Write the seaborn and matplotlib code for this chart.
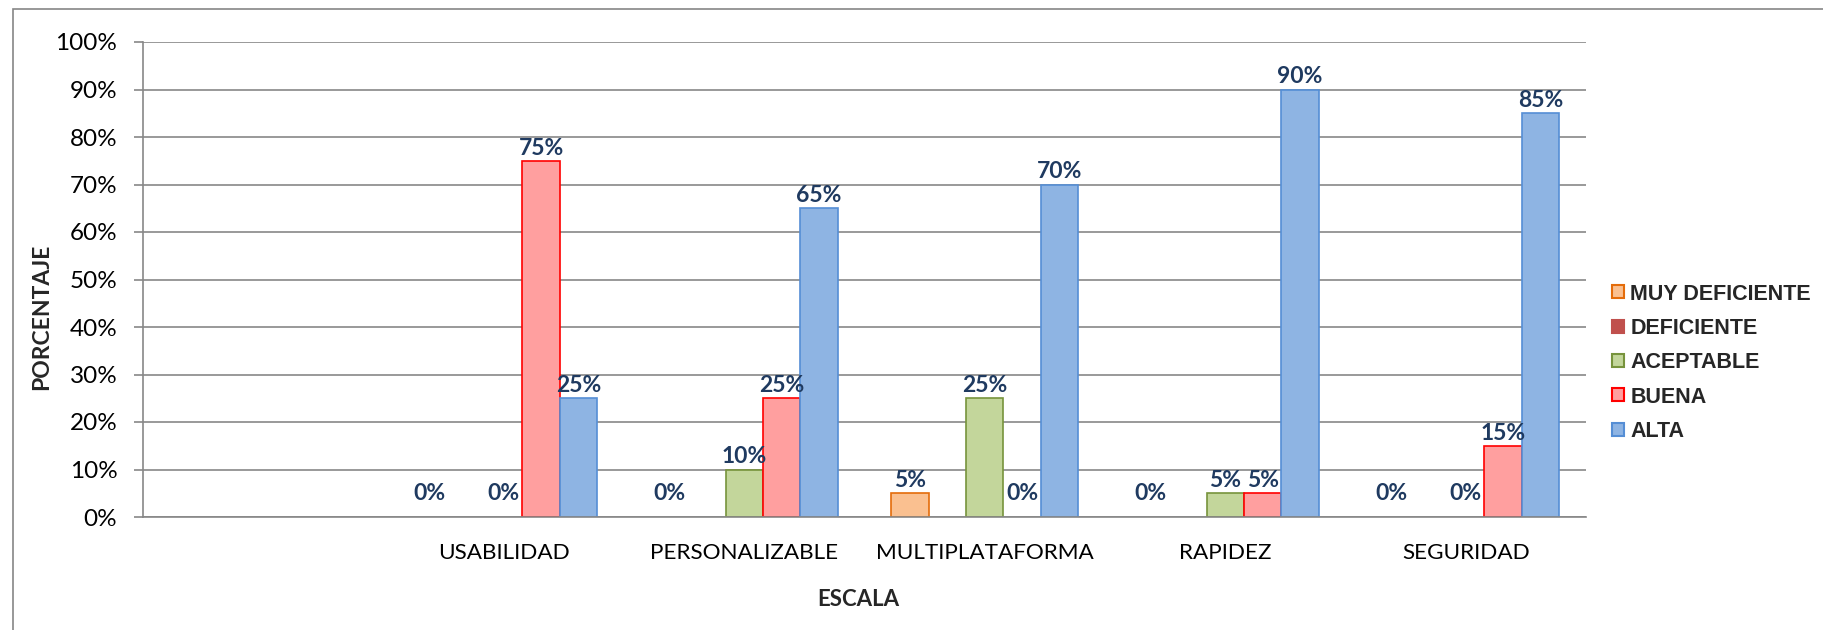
import numpy as np
import pandas as pd
import matplotlib
matplotlib.use("Agg")
import matplotlib.pyplot as plt
from matplotlib.patches import Patch, Rectangle
from matplotlib.ticker import FuncFormatter
from matplotlib import font_manager
import seaborn as sns

# ---------------- data ----------------
categorias = ["", "USABILIDAD", "PERSONALIZABLE", "MULTIPLATAFORMA", "RAPIDEZ", "SEGURIDAD"]
niveles = ["MUY DEFICIENTE", "DEFICIENTE", "ACEPTABLE", "BUENA", "ALTA"]
muy_deficiente = [np.nan, 0.00, 0.00, 0.05, 0.00, 0.00]
deficiente = [np.nan, np.nan, np.nan, np.nan, np.nan, np.nan]
aceptable = [np.nan, 0.00, 0.10, 0.25, 0.05, 0.00]
buena = [np.nan, 0.75, 0.25, 0.00, 0.05, 0.15]
alta = [np.nan, 0.25, 0.65, 0.70, 0.90, 0.85]
yticks = [0.0, 0.1, 0.2, 0.3, 0.4, 0.5, 0.6, 0.7, 0.8, 0.9, 1.0]

series = {"MUY DEFICIENTE": muy_deficiente, "DEFICIENTE": deficiente,
          "ACEPTABLE": aceptable, "BUENA": buena, "ALTA": alta}
rows = []
for nivel in niveles:
    for cat, v in zip(categorias, series[nivel]):
        rows.append({"categoria": cat, "nivel": nivel, "valor": v})
df = pd.DataFrame(rows)

face = {"MUY DEFICIENTE": "#FAC090", "DEFICIENTE": "#C0504D", "ACEPTABLE": "#C3D69B",
        "BUENA": "#FF9F9F", "ALTA": "#8EB4E3"}
edge = {"MUY DEFICIENTE": "#E46C0A", "DEFICIENTE": "#C0504D", "ACEPTABLE": "#77933C",
        "BUENA": "#FF0000", "ALTA": "#558ED5"}

# ---------------- style ----------------
sns.set_style("white")
names = {f.name for f in font_manager.fontManager.ttflist}
main_font = "Lato" if "Lato" in names else "DejaVu Sans"
plt.rcParams["font.family"] = [main_font, "DejaVu Sans"]
leg_font = "Liberation Sans" if "Liberation Sans" in names else "DejaVu Sans"

W, H = 1823, 630
fig = plt.figure(figsize=(W / 100, H / 100), dpi=100)
ax = fig.add_axes([143 / W, 1 - 517 / H, (1586 - 143) / W, (517 - 42) / H])

sns.barplot(data=df, x="categoria", y="valor", hue="nivel", order=categorias,
            hue_order=niveles, palette=face, width=0.776, errorbar=None,
            saturation=1, ax=ax, legend=False)

# edge colours per series + data labels
face_rgb = {k: matplotlib.colors.to_rgb(v) for k, v in face.items()}
for p in ax.patches:
    fc = p.get_facecolor()[:3]
    for k, rgb in face_rgb.items():
        if np.allclose(fc, rgb, atol=0.01):
            p.set_edgecolor(edge[k])
    p.set_linewidth(1.2)
    h = p.get_height()
    if np.isnan(h):
        continue
    if h == 0:
        p.set_linewidth(0)
    cx = p.get_x() + p.get_width() / 2
    off = 9 if h == 0 else 1.5
    ax.annotate(f"{h:.0%}", (cx, h), xytext=(0, off), textcoords="offset points",
                ha="center", va="bottom", fontsize=16.5, fontweight="bold",
                color="#1F3A60")

ax.set_ylim(0, 1)
ax.set_yticks(yticks)
ax.yaxis.set_major_formatter(FuncFormatter(lambda v, _: f"{v:.0%}"))
ax.grid(axis="y", color="#878787", linewidth=1.2)
ax.set_axisbelow(True)
for s in ["top", "right"]:
    ax.spines[s].set_visible(False)
for s in ["left", "bottom"]:
    ax.spines[s].set_color("#878787")
    ax.spines[s].set_linewidth(1.2)
ax.tick_params(axis="y", which="major", left=True, length=6.5, width=1.2,
               color="#878787", pad=12, labelsize=17.5, labelcolor="black")
ax.tick_params(axis="x", bottom=False, length=0, pad=19, labelsize=16.2,
               labelcolor="black")
ax.set_xlabel("")
ax.set_ylabel("")

fig.text(858 / W, 1 - 599 / H, "ESCALA", ha="center", va="center",
         fontsize=16, fontweight="bold")
fig.text(42 / W, 1 - 317 / H, "PORCENTAJE", ha="center", va="center",
         rotation=90, fontsize=16.5, fontweight="bold")

handles = [Patch(facecolor=face[n], edgecolor=edge[n], linewidth=1.5) for n in niveles]
leg = fig.legend(handles, niveles, loc="upper left", bbox_to_anchor=(1612 / W, 1 - 283.5 / H),
                 frameon=False, borderpad=0, borderaxespad=0, handlelength=0.55,
                 handleheight=0.55, handletextpad=0.3, labelspacing=0.62,
                 prop={"family": leg_font, "weight": "bold", "size": 15.5})

# outer chart border
fig.patches.append(Rectangle((13 / W, -0.05), 1.2, 1 - 9 / H + 0.05, transform=fig.transFigure,
                             fill=False, edgecolor="#868686", linewidth=1.2))

fig.savefig("out.png", dpi=100)
